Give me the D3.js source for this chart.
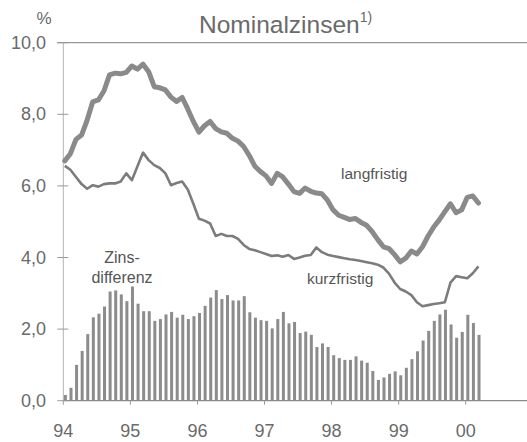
<!DOCTYPE html>
<html>
<head>
<meta charset="utf-8">
<title>Nominalzinsen</title>
<style>
  body { margin: 0; background: #fff; }
  svg text { font-family: "Liberation Sans", Arial, sans-serif; fill: #6a6a6a; }
</style>
</head>
<body>
<div id="chart"></div>
<script src="https://cdn.jsdelivr.net/npm/d3@7"></script>
<script>
// monthly data, Jan 1994 - Mar 2000
var langfristig = [
  6.70, 6.90, 7.30, 7.42, 7.84, 8.35, 8.40, 8.65, 9.10, 9.15, 9.13, 9.17,
  9.35, 9.26, 9.40, 9.19, 8.77, 8.74, 8.68, 8.48, 8.36, 8.47, 8.15, 7.80,
  7.50, 7.68, 7.80, 7.60, 7.51, 7.47, 7.33, 7.25, 7.10, 6.85, 6.55, 6.40,
  6.28, 6.07, 6.35, 6.25, 6.05, 5.84, 5.79, 5.94, 5.85, 5.80, 5.78, 5.60,
  5.33, 5.18, 5.12, 5.06, 5.09, 4.98, 4.90, 4.72, 4.50, 4.30, 4.25, 4.08,
  3.88, 3.98, 4.18, 4.10, 4.30, 4.60, 4.85, 5.05, 5.28, 5.50, 5.25, 5.33,
  5.68, 5.72, 5.52
];
var kurzfristig = [
  6.56, 6.45, 6.25, 6.05, 5.92, 6.02, 5.98, 6.05, 6.07, 6.07, 6.12, 6.35,
  6.16, 6.55, 6.93, 6.72, 6.58, 6.50, 6.35, 6.02, 6.08, 6.12, 5.90, 5.50,
  5.08, 5.03, 4.95, 4.60, 4.66, 4.60, 4.60, 4.52, 4.35, 4.24, 4.20, 4.15,
  4.10, 4.04, 4.06, 4.02, 4.07, 3.96, 4.00, 4.05, 4.07, 4.28, 4.15, 4.08,
  4.04, 4.01, 3.98, 3.95, 3.93, 3.90, 3.87, 3.84, 3.80, 3.72, 3.55, 3.30,
  3.12, 3.05, 2.95, 2.75, 2.64, 2.67, 2.70, 2.72, 2.75, 3.30, 3.48, 3.45,
  3.42, 3.56, 3.75
];
var zinsdifferenz = [
  0.16, 0.36, 1.00, 1.39, 1.86, 2.33, 2.43, 2.63, 3.05, 3.08, 2.97, 2.78,
  3.19, 2.71, 2.50, 2.50, 2.23, 2.28, 2.41, 2.48, 2.32, 2.40, 2.28, 2.36,
  2.45, 2.65, 2.88, 3.09, 2.84, 2.95, 2.80, 2.80, 2.92, 2.47, 2.32, 2.25,
  2.23, 2.02, 2.28, 2.48, 2.16, 2.20, 1.89, 1.93, 1.84, 1.50, 1.60, 1.50,
  1.27, 1.19, 1.14, 1.14, 1.24, 1.12, 1.06, 0.83, 0.58, 0.65, 0.75, 0.82,
  0.71, 0.92, 1.16, 1.38, 1.68, 1.95, 2.23, 2.41, 2.54, 2.13, 1.76, 1.92,
  2.40, 2.17, 1.84
];
var yTicks = [0, 2, 4, 6, 8, 10];
var yearTicks = [1994, 1995, 1996, 1997, 1998, 1999, 2000];
var yearLabels = ["94", "95", "96", "97", "98", "99", "00"];

var W = 527, H = 442;
var svg = d3.select('#chart').append('svg')
  .attr('width', W).attr('height', H);

var x = d3.scaleLinear().domain([1994, 2001]).range([63.3, 532.8]);
var y = d3.scaleLinear().domain([0, 10]).range([400.7, 42.7]);
var fmt = function(v){ return d3.format('.1f')(v).replace('.', ','); };
function mx(i){ return x(1994 + i / 12); }

// frame
svg.append('line').attr('x1', 57).attr('x2', W).attr('y1', y(10)).attr('y2', y(10))
  .attr('stroke', '#9a9a9a').attr('stroke-width', 1.3);
svg.append('line').attr('x1', x(1994)).attr('x2', x(1994)).attr('y1', y(10)).attr('y2', y(0))
  .attr('stroke', '#b4b4b4').attr('stroke-width', 1);

// bars
svg.append('g').selectAll('rect')
  .data(zinsdifferenz)
  .enter().append('rect')
  .attr('x', function(d, i){ return mx(i) + 0.6; })
  .attr('width', 3)
  .attr('y', function(d){ return y(d); })
  .attr('height', function(d){ return y(0) - y(d); })
  .attr('fill', '#8c8c8c');

// baseline
svg.append('line').attr('x1', x(1994)).attr('x2', W).attr('y1', y(0)).attr('y2', y(0))
  .attr('stroke', '#8a8a8a').attr('stroke-width', 1.3);

// y ticks and labels
var yg = svg.append('g');
yg.selectAll('line').data(yTicks).enter().append('line')
  .attr('x1', x(1994) - 6).attr('x2', x(1994) + 5)
  .attr('y1', function(d){ return y(d); }).attr('y2', function(d){ return y(d); })
  .attr('stroke', '#9a9a9a');
yg.selectAll('text').data(yTicks).enter().append('text')
  .attr('x', 46).attr('y', function(d){ return y(d) + 6; })
  .attr('text-anchor', 'end').style('font-size', '18px')
  .text(fmt);

// x ticks and labels
var xg = svg.append('g');
xg.selectAll('line').data(yearTicks).enter().append('line')
  .attr('x1', function(d){ return x(d); }).attr('x2', function(d){ return x(d); })
  .attr('y1', y(0)).attr('y2', y(0) + 4)
  .attr('stroke', '#9a9a9a');
xg.selectAll('text').data(yearTicks).enter().append('text')
  .attr('x', function(d){ return x(d); }).attr('y', 437)
  .attr('text-anchor', 'middle').style('font-size', '18px')
  .text(function(d, i){ return yearLabels[i]; });

// lines
var line = d3.line()
  .x(function(d, i){ return mx(i) + 1.5; })
  .y(function(d){ return y(d); });
svg.append('path').datum(kurzfristig)
  .attr('d', line).attr('fill', 'none')
  .attr('stroke', '#7c7c7c').attr('stroke-width', 2.6)
  .attr('stroke-linejoin', 'round');
svg.append('path').datum(langfristig)
  .attr('d', line).attr('fill', 'none')
  .attr('stroke', '#8a8a8a').attr('stroke-width', 5)
  .attr('stroke-linejoin', 'round').attr('stroke-linecap', 'round');

// texts
svg.append('text').attr('x', 44).attr('y', 24).attr('text-anchor', 'middle')
  .style('font-size', '17px').text('%');
var title = svg.append('text').attr('x', 199).attr('y', 33).style('font-size', '24.5px');
title.append('tspan').text('Nominalzinsen');
title.append('tspan').attr('dy', -11).style('font-size', '14px').text('1)');

svg.append('text').attr('x', 341).attr('y', 179).style('font-size', '15.5px')
  .style('fill', '#555').text('langfristig');
svg.append('text').attr('x', 307).attr('y', 284).style('font-size', '15.5px')
  .style('fill', '#555').text('kurzfristig');
svg.append('text').attr('x', 122).attr('y', 263).attr('text-anchor', 'middle')
  .style('font-size', '16px').style('fill', '#555').text('Zins-');
svg.append('text').attr('x', 122).attr('y', 283).attr('text-anchor', 'middle')
  .style('font-size', '16px').style('fill', '#555').text('differenz');
</script>
</body>
</html>
